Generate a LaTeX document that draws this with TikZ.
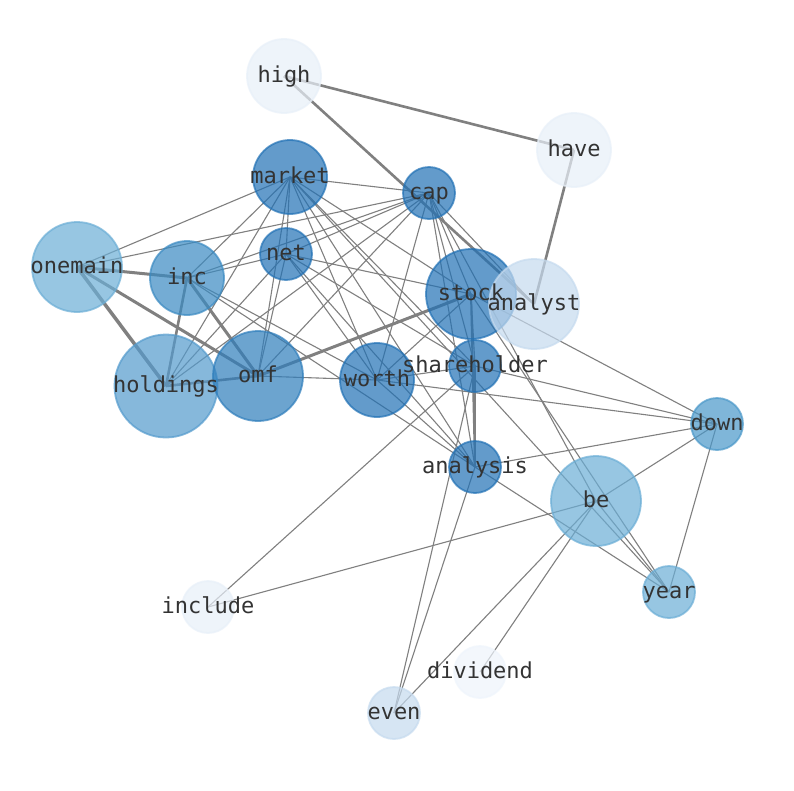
\documentclass[tikz,border=0pt]{standalone}
\usepackage{fontspec}
\newfontfamily\lblfont{DejaVu Sans Mono}
\definecolor{cA}{HTML}{2171B5}
\definecolor{cB}{HTML}{2F7EBC}
\definecolor{cC}{HTML}{3A8AC2}
\definecolor{cD}{HTML}{4A98C9}
\definecolor{cE}{HTML}{549BCD}
\definecolor{cF}{HTML}{6BAED6}
\definecolor{cG}{HTML}{C6DBEF}
\definecolor{cH}{HTML}{E8F0F9}
\definecolor{cI}{HTML}{EFF5FC}
\begin{document}
\begin{tikzpicture}[x=1pt,y=-1pt,
  edge/.style={draw=gray, line width=1.1pt},
  heavy/.style={draw=gray, line width=2.6pt},
  vtx/.style 2 args={circle, inner sep=0pt, minimum size=#1, fill=#2, draw=#2,
     fill opacity=0.7, draw opacity=0.7, line width=1.8pt},
  lbl/.style={font=\lblfont\fontsize{22}{22}\selectfont, text=black!80, inner sep=0pt,
     text height=16.5pt, text depth=4.5pt}
]
\useasboundingbox[fill=white] (0,0) rectangle (794,790);
% positions
\coordinate (high) at (284,76);
\coordinate (have) at (574,150);
\coordinate (market) at (290,177);
\coordinate (cap) at (429,193);
\coordinate (onemain) at (77,267);
\coordinate (inc) at (187,278);
\coordinate (net) at (286,254);
\coordinate (stock) at (471,294);
\coordinate (analyst) at (534,304);
\coordinate (holdings) at (166,386);
\coordinate (omf) at (258,376);
\coordinate (worth) at (377,380);
\coordinate (shareholder) at (475,366);
\coordinate (down) at (717,424);
\coordinate (analysis) at (475,467);
\coordinate (be) at (596,501);
\coordinate (include) at (208,607);
\coordinate (year) at (669,592);
\coordinate (dividend) at (480,672);
\coordinate (even) at (394,713);
% thin edges
\foreach \a/\b in {onemain/market, onemain/cap,
  inc/market, inc/cap, inc/net, inc/worth, inc/analysis,
  market/cap, market/net, market/holdings, market/omf, market/worth, market/stock,
  market/shareholder, market/analysis, market/year,
  net/cap, net/holdings, net/omf, net/worth, net/stock, net/shareholder, net/analysis,
  cap/holdings, cap/omf, cap/worth, cap/stock, cap/shareholder, cap/analysis, cap/be, cap/analyst,
  omf/worth, worth/stock, worth/shareholder, worth/down, worth/analysis,
  stock/shareholder, stock/down, stock/year,
  shareholder/analysis, shareholder/down, shareholder/include, shareholder/even,
  analysis/down, analysis/year, analysis/even,
  be/down, be/year, be/include, be/even, be/dividend, down/year}
  \draw[edge] (\a) -- (\b);
% heavy edges
\draw[heavy] (high) -- (have);
\draw[heavy] (high) -- (analyst);
\draw[heavy] (have) -- (analyst);
\draw[heavy, line width=3pt] (onemain) -- (inc);
\draw[heavy, line width=3.5pt] (onemain) -- (holdings);
\draw[heavy, line width=3pt] (onemain) -- (omf);
\draw[heavy, line width=3pt] (inc) -- (omf);
\draw[heavy] (inc) -- (holdings);
\draw[heavy] (omf) -- (holdings);
\draw[heavy, line width=3pt] (omf) -- (stock);
\draw[heavy, line width=2pt] (stock) -- (analysis);
% nodes
\node[vtx={74pt}{cH}] (n-high) at (high) {};
\node[vtx={74pt}{cH}] (n-have) at (have) {};
\node[vtx={74pt}{cA}] (n-market) at (market) {};
\node[vtx={52pt}{cA}] (n-cap) at (cap) {};
\node[vtx={90pt}{cF}] (n-onemain) at (onemain) {};
\node[vtx={74pt}{cC}] (n-inc) at (inc) {};
\node[vtx={52pt}{cA}] (n-net) at (net) {};
\node[vtx={90pt}{cA}] (n-stock) at (stock) {};
\node[vtx={90pt}{cG}] (n-analyst) at (analyst) {};
\node[vtx={103pt}{cE}] (n-holdings) at (holdings) {};
\node[vtx={90pt}{cB}] (n-omf) at (omf) {};
\node[vtx={74pt}{cA}] (n-worth) at (worth) {};
\node[vtx={52pt}{cA}] (n-shareholder) at (shareholder) {};
\node[vtx={52pt}{cD}] (n-down) at (down) {};
\node[vtx={52pt}{cA}] (n-analysis) at (analysis) {};
\node[vtx={90pt}{cF}] (n-be) at (be) {};
\node[vtx={52pt}{cH}] (n-include) at (include) {};
\node[vtx={52pt}{cF}] (n-year) at (year) {};
\node[vtx={52pt}{cI}] (n-dividend) at (dividend) {};
\node[vtx={52pt}{cG}] (n-even) at (even) {};
% labels
\foreach \n in {high, have, market, cap, onemain, inc, net, stock, analyst, holdings, omf,
  worth, shareholder, down, analysis, be, include, year, dividend, even}
  \node[lbl] (t-\n) at (\n) {\n};
\end{tikzpicture}
\end{document}
